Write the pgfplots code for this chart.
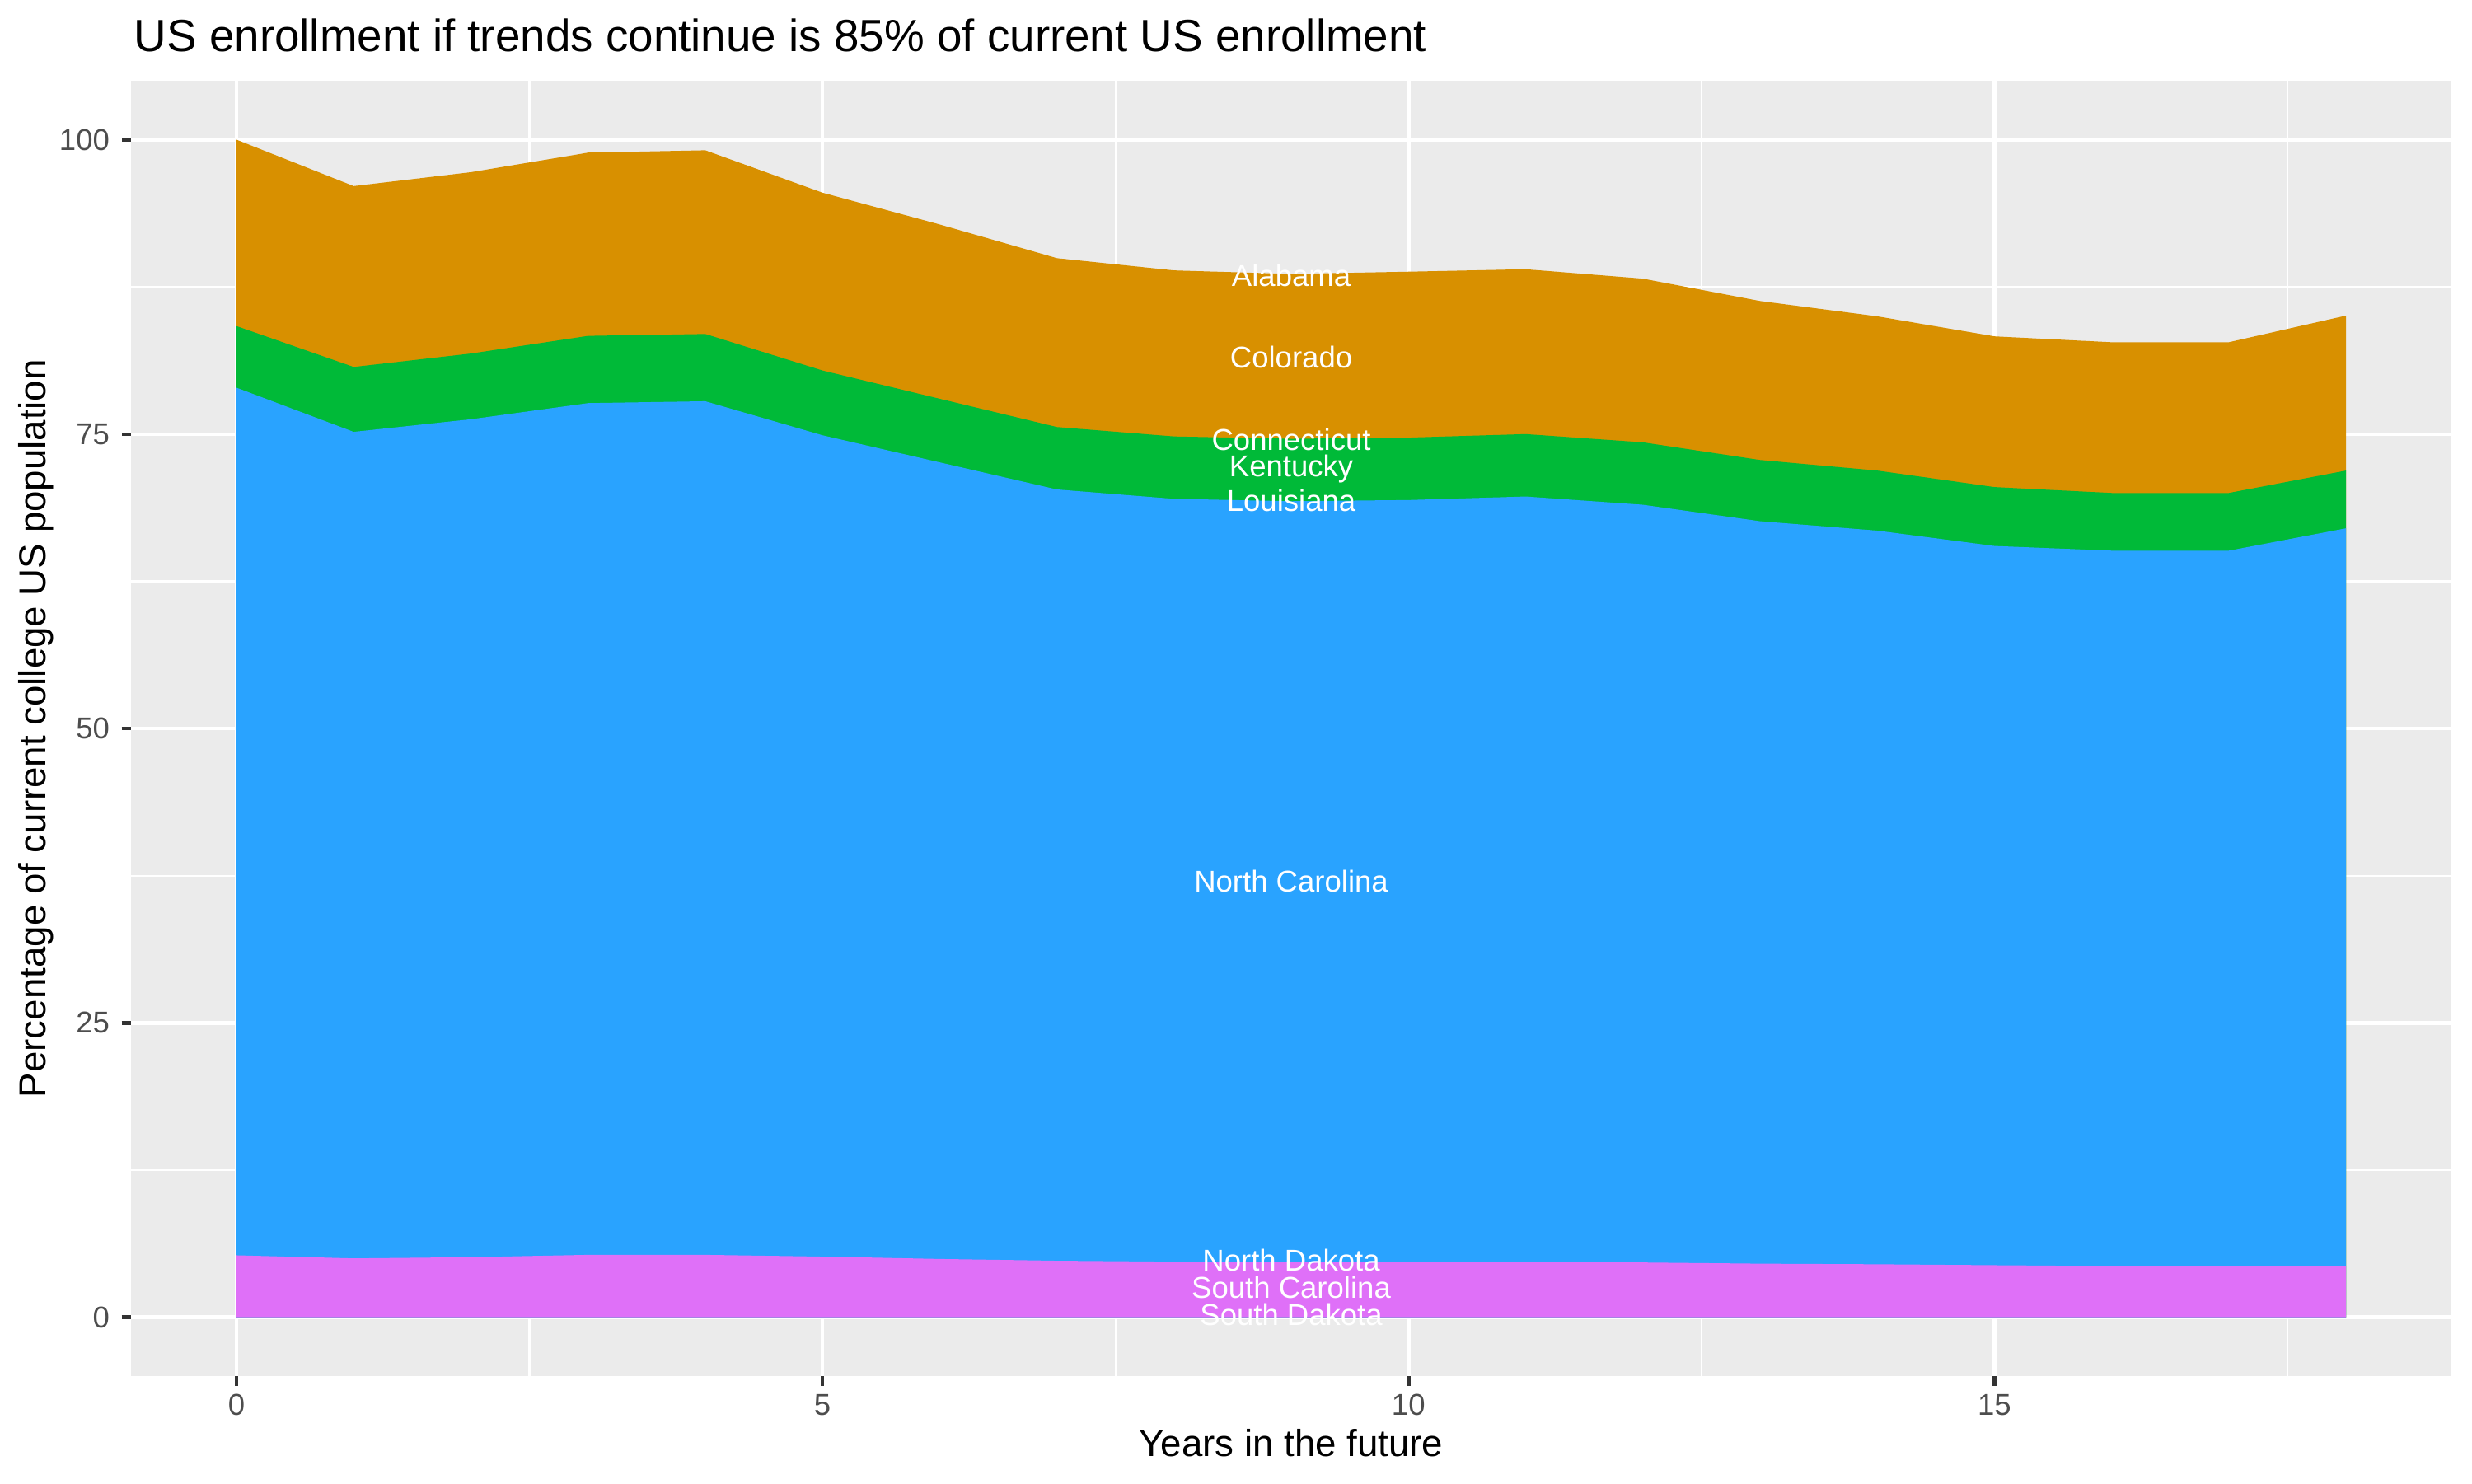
\documentclass[border=0pt]{standalone}
\usepackage{fontspec}
\setmainfont{Liberation Sans}
\usepackage{pgfplots}
\pgfplotsset{compat=1.18}

\definecolor{panelbg}{HTML}{EBEBEB}
\definecolor{ticklab}{HTML}{4D4D4D}
\definecolor{tickcol}{HTML}{333333}
\definecolor{aorange}{HTML}{D89000}
\definecolor{agreen}{HTML}{00BA38}
\definecolor{ablue}{HTML}{29A3FF}
\definecolor{apurple}{HTML}{DF70F8}

\begin{document}
\begin{tikzpicture}
\useasboundingbox (0,0) rectangle (10in,6in);
\begin{axis}[
    at={(0.53in,0.433in)}, anchor=south west,
    scale only axis,
    width=9.387in, height=5.24in,
    xmin=-0.9, xmax=18.9, ymin=-5, ymax=105,
    xtick={0,5,10,15}, ytick={0,25,50,75,100},
    minor xtick={2.5,7.5,12.5,17.5},
    minor ytick={12.5,37.5,62.5,87.5},
    grid=both,
    major grid style={white, line width=1.07pt},
    minor grid style={white, line width=0.53pt},
    axis background/.style={fill=panelbg},
    axis line style={draw=none},
    tick align=outside,
    major tick length=2.75pt, minor tick length=0pt,
    tick style={color=tickcol, line width=1.07pt},
    xtick pos=bottom, ytick pos=left,
    ticklabel style={font=\fontsize{8.8}{10}\selectfont, text=ticklab},
    xticklabel style={yshift=1pt},
    /pgf/number format/assume math mode=true,
    clip=false,
]
% cumulative tops of each layer, drawn from the top layer down
\addplot[fill=aorange, draw=none] coordinates {
    (0,100) (1,96.06) (2,97.24) (3,98.9) (4,99.1) (5,95.5) (6,92.8)
    (7,89.94) (8,88.9) (9,88.6) (10,88.79) (11,89.0) (12,88.2) (13,86.3)
    (14,85.0) (15,83.3) (16,82.8) (17,82.8) (18,85.06)} \closedcycle;
\addplot[fill=agreen, draw=none] coordinates {
    (0,84.17) (1,80.7) (2,81.84) (3,83.34) (4,83.5) (5,80.4) (6,78.0)
    (7,75.6) (8,74.8) (9,74.6) (10,74.7) (11,75.0) (12,74.3) (13,72.8)
    (14,71.9) (15,70.5) (16,70.0) (17,70.0) (18,71.9)} \closedcycle;
\addplot[fill=ablue, draw=none] coordinates {
    (0,78.94) (1,75.19) (2,76.26) (3,77.63) (4,77.79) (5,74.9) (6,72.6)
    (7,70.3) (8,69.5) (9,69.3) (10,69.4) (11,69.7) (12,69.0) (13,67.6)
    (14,66.8) (15,65.5) (16,65.1) (17,65.1) (18,67.0)} \closedcycle;
\addplot[fill=apurple, draw=none] coordinates {
    (0,5.26) (1,5.0) (2,5.1) (3,5.3) (4,5.3) (5,5.15) (6,4.95)
    (7,4.8) (8,4.72) (9,4.72) (10,4.72) (11,4.72) (12,4.65) (13,4.55)
    (14,4.5) (15,4.42) (16,4.35) (17,4.33) (18,4.37)} \closedcycle;

\begin{scope}[every node/.style={text=white, font=\fontsize{8.8}{10}\selectfont, inner sep=0pt}]
\node at (axis cs:9,88.45) {Alabama};
\node at (axis cs:9,81.55) {Colorado};
\node at (axis cs:9,74.55) {Connecticut};
\node at (axis cs:9,72.05) {Kentucky};
\node at (axis cs:9,69.35) {Louisiana};
\node at (axis cs:9,37.05) {North Carolina};
\node at (axis cs:9,4.85) {North Dakota};
\node at (axis cs:9,2.55) {South Carolina};
\node at (axis cs:9,0.2) {South Dakota};
\end{scope}
\end{axis}
\node[anchor=base west, inner sep=0pt, font=\fontsize{13.2}{15}\selectfont] at (0.54in,5.79in)
    {US enrollment if trends continue is 85\% of current US enrollment};
\node[anchor=base, inner sep=0pt, font=\fontsize{11}{13}\selectfont] at (5.223in,0.11in)
    {Years in the future};
\node[rotate=90, inner sep=0pt, font=\fontsize{11}{13}\selectfont] at (0.147in,3.053in)
    {Percentage of current college US population};
\end{tikzpicture}
\end{document}
